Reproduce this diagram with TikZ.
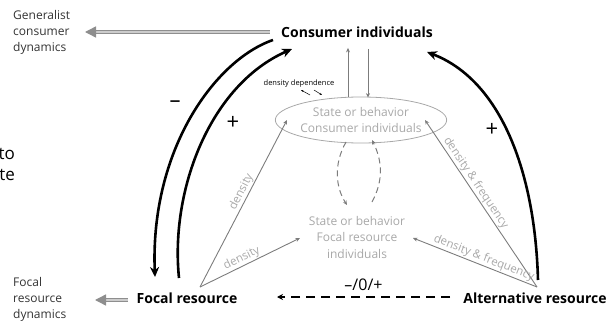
\documentclass[tikz,border=0pt]{standalone}
\usepackage{fontspec}
\setmainfont{Open Sans}
\usetikzlibrary{arrows.meta,shapes.geometric}

\definecolor{statetextgray}{HTML}{A8A8A8}
\definecolor{linegray}{HTML}{7C7C7C}
\definecolor{dyngray}{HTML}{8E8E8E}

\begin{document}
\begin{tikzpicture}[x=1pt,y=-1pt,
    bigname/.style={font=\fontsize{14}{16}\selectfont\bfseries},
    dyntext/.style={align=left, anchor=west, inner sep=0pt, font=\fontsize{12}{16}\selectfont, text=black!80},
    statetext/.style={align=center, font=\fontsize{12}{16.5}\selectfont, text=statetextgray},
    feedback/.style={line width=2.6pt, -{Stealth[length=10pt,width=9pt]}},
    effect/.style={line width=0.9pt, draw=linegray, -{Stealth[length=4.5pt,width=4pt]}},
    effectlabel/.style={sloped, above, inner sep=1pt, font=\fontsize{11.5}{12}\selectfont, text=statetextgray},
    dynarrow/.style={draw=dyngray, line width=1.4pt, double=dyngray!45, double distance=1.8pt, -{Triangle[length=11pt,width=11pt]}},
    statelink/.style={line width=1pt, draw=linegray, dash pattern=on 6pt off 4pt, -{Stealth[length=4.5pt,width=4pt]}},
    tinyarrow/.style={line width=0.5pt, -{Stealth[length=2.5pt,width=2pt]}},
    sign/.style={font=\fontsize{22}{22}\selectfont}
]
    \useasboundingbox (0,0) rectangle (606,324);

    % Main players
    \node[bigname] (cons) at (357,32) {Consumer individuals};
    \node[bigname] (focal) at (187,298) {Focal resource};
    \node[bigname, inner xsep=1pt] (altres) at (535,298) {Alternative resource};

    % Dynamics on the left
    \node[dyntext] (genDyn) at (13,32) {Generalist\\consumer\\dynamics};
    \node[dyntext] (focDyn) at (13,299) {Focal\\resource\\dynamics};
    \node[font=\fontsize{17}{21}\selectfont, anchor=east, align=right, inner sep=0pt] (cutText) at (15,164) {to\\te};

    % States or behaviors
    \node[ellipse, draw=statetextgray, line width=0.8pt, minimum width=168pt, minimum height=46pt,
          inner sep=0pt, statetext] (consState) at (361,120) {State or behavior\\Consumer individuals};
    \node[statetext] (focState) at (357,237) {State or behavior\\Focal resource\\individuals};

    % Coordinates for the arrow ends
    \coordinate (consLeft) at (273,40);
    \coordinate (consTip) at (292,49);
    \coordinate (consRight) at (427,52);
    \coordinate (focTip) at (155,277);
    \coordinate (focFoot) at (179,278);
    \coordinate (altFoot) at (538,280);
    \coordinate (focTop) at (200,287);
    \coordinate (altTop) at (537,287);
    \coordinate (consInL) at (287,120);
    \coordinate (consInR) at (425,120);
    \coordinate (focInL) at (300,238);
    \coordinate (focInR) at (413,238);
    \coordinate (genEnd) at (85,32);
    \coordinate (focEnd) at (95,300);
    \coordinate (dashEnd) at (277,297);
    \coordinate (dashStart) at (450,297);

    % Population dynamics
    \draw[dynarrow] (cons.west |- genEnd) ++(-8pt,0) -- (genEnd);
    \draw[dynarrow] (focal.west |- focEnd) ++(-5pt,0) -- (focEnd);

    % Direct effects between consumer and resources
    \draw[feedback] (consLeft) .. controls (215,60) and (150,150) .. (focTip);
    \draw[feedback] (focFoot) .. controls (170,190) and (210,85) .. (consTip);
    \draw[feedback] (altFoot) .. controls (535,170) and (500,80) .. (consRight);
    \node[sign] (minusSign) at (175,104) {–};
    \node[sign] (plusLeft) at (233,123) {+};
    \node[sign] (plusRight) at (492,130) {+};

    % Indirect effect of the alternative resource on the focal resource
    \draw[line width=1.8pt, dash pattern=on 9pt off 6pt, -{Stealth[length=6pt,width=6pt]}] (dashStart) -- (dashEnd)
        node[midway, above=2pt, font=\fontsize{16}{16}\selectfont] (signLabel) {–/0/+};

    % Effects on states or behaviors
    \draw[effect] (focTop) -- (consInL) node[effectlabel, pos=0.55] {density};
    \draw[effect] (focTop) -- (focInL) node[effectlabel, pos=0.45] {density};
    \draw[effect] (altTop) -- (consInR) node[effectlabel, pos=0.6] {density \& frequency};
    \draw[effect] (altTop) -- (focInR) node[effectlabel, pos=0.45] {density \& frequency};

    % Consumer individuals and their state
    \draw[effect] ([xshift=-13pt]consState.north) -- ([xshift=-9pt,yshift=-7pt]cons.south);
    \draw[effect] ([xshift=11pt,yshift=-8pt]cons.south) -- ([xshift=7pt,yshift=-1pt]consState.north);
    \node[font=\fontsize{7.5}{9}\selectfont] (ddLabel) at (299,84) {density dependence};
    \draw[tinyarrow] (310,95) -- (301,90);
    \draw[tinyarrow] (314,90) -- (322,95);

    % State to state
    \draw[statelink] (346,142) .. controls (333,165) and (336,188) .. (347,205);
    \draw[statelink] (372,202) .. controls (384,180) and (382,160) .. (372,140);
\end{tikzpicture}
\end{document}
